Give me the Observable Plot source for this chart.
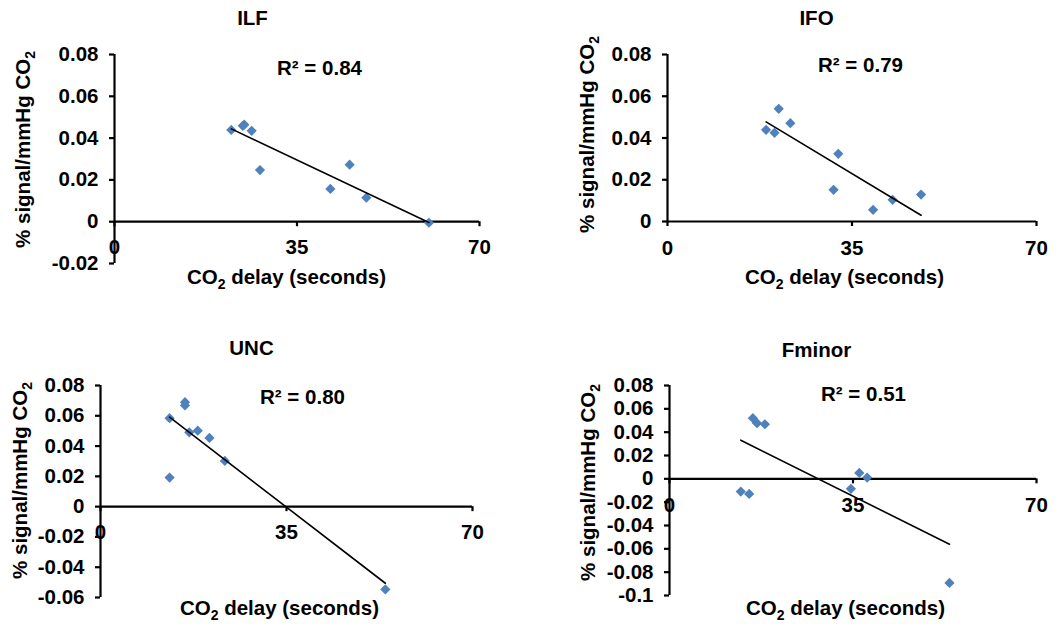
<!DOCTYPE html>
<html><head><meta charset="utf-8">
<script src="https://cdn.jsdelivr.net/npm/d3@7"></script>
<script src="https://cdn.jsdelivr.net/npm/@observablehq/plot@0.6"></script>
<style>
html,body{margin:0;padding:0;background:#fff;}
#chart{position:relative;width:1063px;height:624px;overflow:hidden;background:#fff;}
#chart svg{position:absolute;}
</style></head><body><div id="chart"></div>
<script>
// ---- data ----
const xTicks = [0, 35, 70];

const ilfDelay  = [22.4, 24.6, 24.9, 26.3, 27.9, 41.4, 45.1, 48.3, 60.3];
const ilfSignal = [0.0439, 0.0459, 0.0464, 0.0435, 0.0247, 0.0157, 0.0273, 0.0115, -0.0005];
const ilfTicks  = [-0.02, 0, 0.02, 0.04, 0.06, 0.08];

const ifoDelay  = [18.7, 20.3, 21.1, 23.3, 31.5, 32.4, 39.0, 42.7, 48.1];
const ifoSignal = [0.0439, 0.0425, 0.054, 0.0471, 0.0152, 0.0324, 0.0056, 0.0104, 0.0129];
const ifoTicks  = [0, 0.02, 0.04, 0.06, 0.08];

const uncDelay  = [13.0, 13.0, 15.9, 15.9, 16.7, 18.3, 20.5, 23.4, 53.6];
const uncSignal = [0.0584, 0.0192, 0.069, 0.0668, 0.0491, 0.0502, 0.0454, 0.0302, -0.0547];
const uncTicks  = [-0.06, -0.04, -0.02, 0, 0.02, 0.04, 0.06, 0.08];

const fmDelay  = [13.6, 15.2, 15.9, 16.7, 18.2, 34.6, 36.2, 37.7, 53.4];
const fmSignal = [-0.0109, -0.0129, 0.052, 0.0477, 0.0468, -0.0086, 0.0051, 0.0011, -0.0892];
const fmTicks  = [-0.1, -0.08, -0.06, -0.04, -0.02, 0, 0.02, 0.04, 0.06, 0.08];

const titles = ["ILF", "IFO", "UNC", "Fminor"];
const r2Labels = ["R² = 0.84", "R² = 0.79", "R² = 0.80", "R² = 0.51"];
const yLabel = "% signal/mmHg CO₂";
const xLabel = "CO₂ delay (seconds)";

// ---- layout ----
const panels = [
  {title: titles[0], r2: r2Labels[0], xs: ilfDelay, ys: ilfSignal, yTicks: ilfTicks,
   left: 0, top: 0, w: 531, h: 300, frame: [114, 479, 54, 263],
   titlePos: [252, 18], ylabPos: [23, 149], xlabPos: [286, 277], r2Pos: [319, 68], xTickDy: 26},
  {title: titles[1], r2: r2Labels[1], xs: ifoDelay, ys: ifoSignal, yTicks: ifoTicks,
   left: 531, top: 0, w: 532, h: 300, frame: [667, 1036, 54, 221],
   titlePos: [816, 18], ylabPos: [587, 134], xlabPos: [844, 277], r2Pos: [860, 65], xTickDy: 27},
  {title: titles[2], r2: r2Labels[2], xs: uncDelay, ys: uncSignal, yTicks: uncTicks,
   left: 0, top: 300, w: 531, h: 324, frame: [100, 472, 385, 597],
   titlePos: [251, 348], ylabPos: [20, 480], xlabPos: [279, 608], r2Pos: [302, 397], xTickDy: 26},
  {title: titles[3], r2: r2Labels[3], xs: fmDelay, ys: fmSignal, yTicks: fmTicks,
   left: 531, top: 300, w: 532, h: 324, frame: [669, 1036, 385, 595],
   titlePos: [816, 350], ylabPos: [588, 482], xlabPos: [845, 608], r2Pos: [863, 394], xTickDy: 27}
];

const fmt = d => String(+d.toFixed(2));
const FONT = "'Liberation Sans', Arial, sans-serif";
const ns = "http://www.w3.org/2000/svg";

function subscript(svg) {
  svg.querySelectorAll("text").forEach(t => {
    const s = t.textContent;
    const i = s.indexOf("₂");
    if (i < 0) return;
    t.textContent = "";
    const a = document.createElementNS(ns, "tspan"); a.textContent = s.slice(0, i);
    const b = document.createElementNS(ns, "tspan"); b.textContent = "2";
    b.setAttribute("font-size", "14"); b.setAttribute("dy", "5");
    const c = document.createElementNS(ns, "tspan"); c.textContent = s.slice(i + 1);
    c.setAttribute("dy", "-5");
    t.append(a, b, c);
  });
}

function panel(cfg) {
  const data = cfg.xs.map((x, i) => ({x, y: cfg.ys[i]}));
  const yDomain = [cfg.yTicks[0], cfg.yTicks[cfg.yTicks.length - 1]];
  const [fx0, fx1, fy0, fy1] = cfg.frame;
  const tickLen = (yDomain[1] - yDomain[0]) / (fy1 - fy0) * 5;
  const at = p => ({frameAnchor: "top-left", dx: p[0] - fx0, dy: p[1] - fy0, textAnchor: "middle", lineAnchor: "middle"});
  const txt = {fontSize: 20.5, fontWeight: "bold", fill: "black"};
  const svg = Plot.plot({
    width: cfg.w, height: cfg.h,
    marginLeft: fx0 - cfg.left, marginRight: cfg.left + cfg.w - fx1,
    marginTop: fy0 - cfg.top, marginBottom: cfg.top + cfg.h - fy1,
    x: {domain: [0, 70], axis: null},
    y: {domain: yDomain, axis: null},
    style: {fontFamily: FONT, fontWeight: "bold", fontSize: "20.5px", color: "black", background: "white", overflow: "visible"},
    marks: [
      Plot.ruleY([0], {stroke: "black", strokeWidth: 2.2}),
      Plot.ruleX(xTicks, {x: d => d, y1: () => 0, y2: () => -tickLen, stroke: "black", strokeWidth: 2.2}),
      Plot.ruleX([0], {stroke: "black", strokeWidth: 2.2}),
      Plot.axisY({ticks: cfg.yTicks, tickSize: 5, tickPadding: 11, tickFormat: fmt, strokeWidth: 2.2, label: null, ...txt}),
      Plot.text(xTicks, {x: d => d, y: () => 0, dy: cfg.xTickDy, text: d => String(d), ...txt}),
      Plot.dot(data, {x: "x", y: "y", symbol: "diamond2", r: 4.6, fill: "#4F81BD", stroke: "none"}),
      Plot.linearRegressionY(data, {x: "x", y: "y", stroke: "black", strokeWidth: 1.6, ci: 0}),
      Plot.text([cfg.title], {...at(cfg.titlePos), text: d => d, ...txt}),
      Plot.text([cfg.r2], {...at(cfg.r2Pos), text: d => d, ...txt}),
      Plot.text([xLabel], {...at(cfg.xlabPos), text: d => d, ...txt}),
      Plot.text([yLabel], {...at(cfg.ylabPos), text: d => d, rotate: -90, ...txt})
    ]
  });
  subscript(svg);
  svg.style.left = cfg.left + "px";
  svg.style.top = cfg.top + "px";
  document.getElementById("chart").append(svg);
}

panels.forEach(panel);
</script>
</body></html>
